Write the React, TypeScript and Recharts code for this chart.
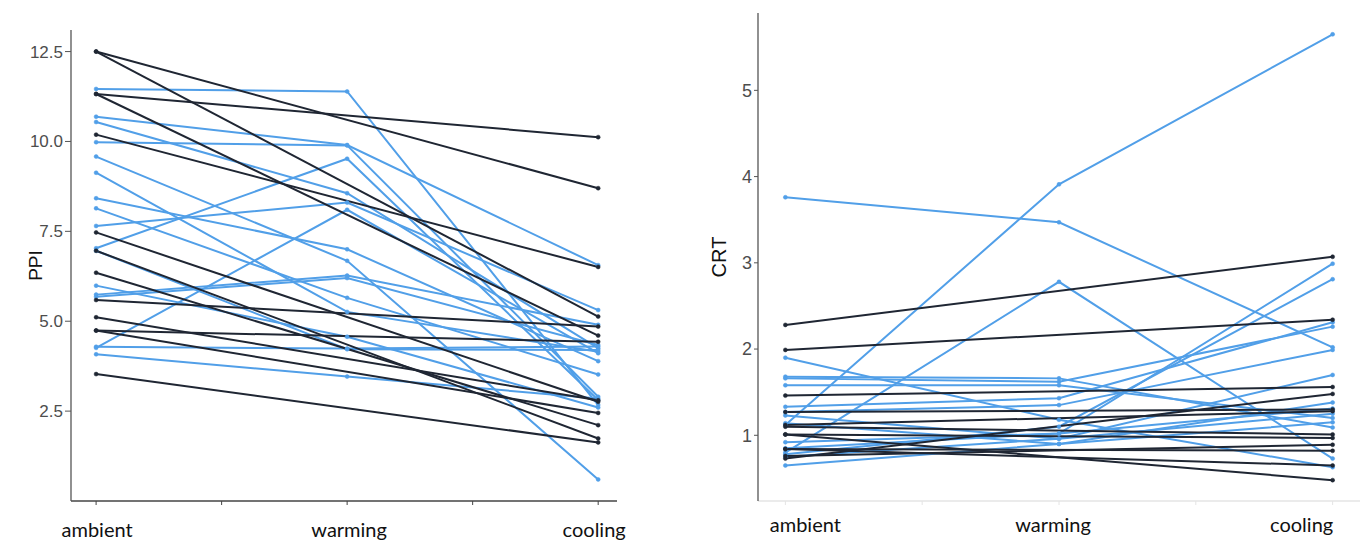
import React from "react";
import { LineChart, Line, XAxis, YAxis } from "recharts";

const conditions = ["ambient", "warming", "cooling"];

// PPI: participants measured at all three stages (ambient, warming, cooling)
const ppiThreeStage = [
  [11.46, 11.39, 2.67],
  [10.69, 9.9, 6.56],
  [10.54, 8.56, 4.25],
  [9.98, 9.89, 2.9],
  [9.58, 6.68, 0.6],
  [9.13, 5.26, 4.15],
  [8.42, 7.0, 3.89],
  [7.65, 8.3, 5.31],
  [7.03, 9.52, 2.81],
  [4.26, 8.1, 4.11],
  [6.96, 4.22, 4.2],
  [5.99, 4.57, 2.6],
  [5.74, 6.27, 4.9],
  [5.68, 6.2, 4.34],
  [4.29, 4.24, 4.3],
  [4.08, 3.46, 2.85],
  [8.14, 5.65, 3.52],
];

// PPI: participants measured at ambient and cooling only
const ppiTwoStage = [
  [12.5, 8.7],
  [12.5, 5.13],
  [11.32, 10.12],
  [11.32, 4.6],
  [10.19, 6.51],
  [7.47, 2.76],
  [6.96, 1.74],
  [6.35, 2.11],
  [5.59, 4.85],
  [5.11, 2.8],
  [4.74, 4.43],
  [4.74, 2.45],
  [3.53, 1.63],
];

const crtThreeStage = [
  [3.76, 3.47, 2.02],
  [1.12, 3.91, 5.65],
  [0.8, 2.78, 0.73],
  [1.9, 1.18, 0.63],
  [0.85, 1.02, 2.99],
  [0.78, 1.1, 2.81],
  [1.68, 1.66, 1.09],
  [1.66, 1.62, 2.26],
  [1.58, 1.58, 1.2],
  [1.33, 1.43, 2.31],
  [1.27, 1.35, 1.99],
  [1.23, 0.96, 1.7],
  [1.14, 0.9, 1.38],
  [0.92, 1.02, 1.31],
  [0.75, 0.96, 1.25],
  [0.65, 0.9, 1.15],
];

const crtTwoStage = [
  [2.28, 3.07],
  [1.99, 2.34],
  [1.46, 1.56],
  [0.73, 1.48],
  [1.27, 1.3],
  [1.12, 1.28],
  [1.1, 1.01],
  [1.01, 0.48],
  [1.01, 0.97],
  [0.84, 0.82],
  [0.84, 0.65],
  [0.76, 0.89],
];

const ppiTicks = [2.5, 5, 7.5, 10, 12.5];
const crtTicks = [1, 2, 3, 4, 5];
const xTicks = [0, 0.5, 1, 1.5, 2];

const LIGHT = "#519fe8";
const DARK = "#1f2633";

const toPoints = (vals: number[]) =>
  vals.length === 3
    ? vals.map((y, x) => ({ x, y }))
    : [
        { x: 0, y: vals[0] },
        { x: 2, y: vals[1] },
      ];

function YTitle({ viewBox, text, x, size }: any) {
  const cy = viewBox.y + viewBox.height / 2;
  return (
    <text
      x={x}
      y={cy}
      transform={`rotate(-90 ${x} ${cy})`}
      textAnchor="middle"
      dominantBaseline="central"
      fontFamily="Liberation Sans"
      fontSize={size}
      fill="#111"
    >
      {text}
    </text>
  );
}

function XTick({ x, y, payload, shifts, gap }: any) {
  const i = payload.value;
  if (!Number.isInteger(i)) return <g />;
  return (
    <text
      x={x + shifts[i]}
      y={y + gap}
      textAnchor="middle"
      fontFamily="Lato"
      fontSize={20}
      fill="#111"
    >
      {conditions[i]}
    </text>
  );
}

interface PanelProps {
  threeStage: number[][];
  twoStage: number[][];
  yTicks: number[];
  yDomain: [number, number];
  xDomain: [number, number];
  title: string;
  titleX: number;
  titleSize: number;
  width: number;
  margin: { top: number; right: number; bottom: number; left: number };
  yAxisWidth: number;
  tickFont: number;
  tickDecimals: number;
  yTickSize: number;
  xAxisColor: string;
  labelShifts: number[];
  labelGap: number;
}

function Panel(p: PanelProps) {
  return (
    <LineChart width={p.width} height={542} margin={p.margin}>
      <XAxis
        type="number"
        dataKey="x"
        domain={p.xDomain}
        allowDataOverflow
        ticks={xTicks}
        interval={0}
        height={41}
        tickSize={4}
        tickMargin={2}
        axisLine={{ stroke: p.xAxisColor, strokeWidth: 1.3 }}
        tickLine={{ stroke: p.xAxisColor, strokeWidth: 1 }}
        tick={(t: any) => <XTick {...t} shifts={p.labelShifts} gap={p.labelGap} />}
      />
      <YAxis
        type="number"
        domain={p.yDomain}
        allowDataOverflow
        ticks={p.yTicks}
        interval={0}
        width={p.yAxisWidth}
        tickSize={p.yTickSize}
        tickMargin={2}
        tickFormatter={(v: number) => v.toFixed(p.tickDecimals)}
        axisLine={{ stroke: "#555", strokeWidth: 1.3 }}
        tickLine={{ stroke: "#555", strokeWidth: 1 }}
        tick={{ fill: "#4d4d4d", fontSize: p.tickFont, fontFamily: "Liberation Sans" }}
        label={<YTitle text={p.title} x={p.titleX} size={p.titleSize} />}
      />
      {p.threeStage.map((vals, i) => (
        <Line
          key={`l${i}`}
          data={toPoints(vals)}
          dataKey="y"
          type="linear"
          stroke={LIGHT}
          strokeWidth={2}
          dot={{ r: 2, fill: LIGHT, stroke: LIGHT, strokeWidth: 0.5 }}
          activeDot={false}
          isAnimationActive={false}
        />
      ))}
      {p.twoStage.map((vals, i) => (
        <Line
          key={`d${i}`}
          data={toPoints(vals)}
          dataKey="y"
          type="linear"
          stroke={DARK}
          strokeWidth={2}
          dot={{ r: 2, fill: DARK, stroke: DARK, strokeWidth: 0.5 }}
          activeDot={false}
          isAnimationActive={false}
        />
      ))}
    </LineChart>
  );
}

export default function App() {
  return (
    <div
      style={{
        position: "absolute",
        left: 0,
        top: 0,
        width: 1360,
        height: 542,
        background: "#fff",
        overflow: "hidden",
      }}
    >
      <div style={{ position: "absolute", left: 0, top: 0 }}>
        <Panel
          threeStage={ppiThreeStage}
          twoStage={ppiTwoStage}
          yTicks={ppiTicks}
          yDomain={[0, 13.1]}
          xDomain={[-0.1, 2.075]}
          title="PPI"
          titleX={18}
          titleSize={19}
          width={640}
          margin={{ top: 30, right: 23, bottom: 0, left: 0 }}
          yAxisWidth={71}
          tickFont={17}
          tickDecimals={1}
          yTickSize={6}
          xAxisColor="#444"
          labelShifts={[1, 2, -4]}
          labelGap={30}
        />
      </div>
      <div style={{ position: "absolute", left: 680, top: 0 }}>
        <Panel
          threeStage={crtThreeStage}
          twoStage={crtTwoStage}
          yTicks={crtTicks}
          yDomain={[0.238, 5.897]}
          xDomain={[-0.1, 2.1]}
          title="CRT"
          titleX={52}
          titleSize={20}
          width={680}
          margin={{ top: 13, right: 0, bottom: 0, left: 0 }}
          yAxisWidth={78}
          tickFont={18}
          tickDecimals={0}
          yTickSize={4}
          xAxisColor="#e4e4e4"
          labelShifts={[20, -6, -31]}
          labelGap={25}
        />
      </div>
    </div>
  );
}
